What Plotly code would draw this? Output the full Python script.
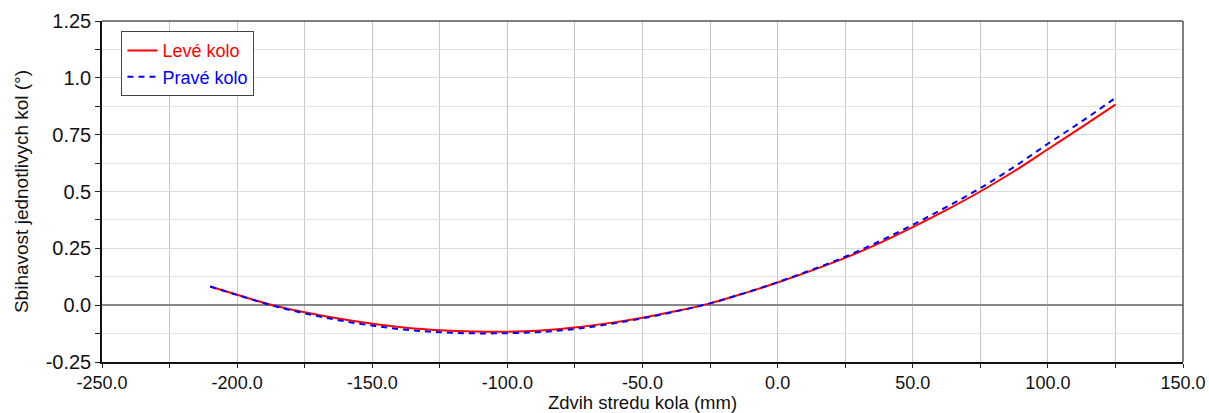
import plotly.graph_objects as go

# Zdvih stredu kola (mm)
zdvih = [-210, -200, -187.5, -175, -162.5, -150, -137.5, -125, -112.5, -100,
         -87.5, -75, -62.5, -50, -37.5, -25, -12.5, 0, 12.5, 25, 37.5, 50,
         62.5, 75, 87.5, 100, 112.5, 125]

leve_kolo = [0.082, 0.046, 0.002, -0.031, -0.059, -0.082, -0.099, -0.110, -0.116, -0.117,
             -0.111, -0.098, -0.079, -0.055, -0.026, 0.008, 0.052, 0.100, 0.152, 0.208,
             0.272, 0.343, 0.419, 0.500, 0.589, 0.686, 0.783, 0.882]

prave_kolo = [0.082, 0.045, 0.000, -0.036, -0.066, -0.090, -0.108, -0.119, -0.124, -0.123,
              -0.118, -0.105, -0.084, -0.058, -0.027, 0.008, 0.052, 0.101, 0.155, 0.213,
              0.280, 0.354, 0.432, 0.515, 0.608, 0.710, 0.808, 0.912]

x_tickvals = [-250, -200, -150, -100, -50, 0, 50, 100, 150]
x_ticktext = ["-250.0", "-200.0", "-150.0", "-100.0", "-50.0", "0.0", "50.0", "100.0", "150.0"]
y_tickvals = [-0.25, 0, 0.25, 0.5, 0.75, 1.0, 1.25]
y_ticktext = ["-0.25", "0.0", "0.25", "0.5", "0.75", "1.0", "1.25"]

FONT = "Liberation Sans, Arial, sans-serif"

fig = go.Figure()
fig.add_trace(go.Scatter(
    x=zdvih, y=leve_kolo, mode="lines", line_shape="spline",
    name="<span style='color:#ff0000'>Levé kolo</span>",
    line=dict(color="#ff0000", width=2),
))
fig.add_trace(go.Scatter(
    x=zdvih, y=prave_kolo, mode="lines", line_shape="spline",
    name="<span style='color:#0000ff'>Pravé kolo</span>",
    line=dict(color="#0000ff", width=2, dash="6px,5px"),
))

fig.update_layout(
    width=1209, height=413,
    margin=dict(l=102, r=26, t=21, b=51),
    paper_bgcolor="white", plot_bgcolor="white",
    font=dict(family=FONT, size=19, color="#111111"),
    showlegend=True,
    legend=dict(
        x=0.018, y=0.97, xanchor="left", yanchor="top",
        bgcolor="white", bordercolor="#444444", borderwidth=1,
        font=dict(family=FONT, size=18),
        tracegroupgap=0, itemwidth=30,
    ),
    xaxis=dict(
        range=[-250, 150], tickvals=x_tickvals, ticktext=x_ticktext,
        showgrid=True, gridcolor="#c8c8c8", gridwidth=1,
        minor=dict(dtick=25, tick0=0, showgrid=True, gridcolor="#c8c8c8",
                   ticks="outside", ticklen=4, tickcolor="#222222"),
        ticks="outside", ticklen=4, tickcolor="#222222",
        showline=True, linecolor="#111111", linewidth=1.5, mirror=False,
        zeroline=False, automargin=False,
        title=dict(text="Zdvih stredu kola (mm)", font=dict(size=18.5), standoff=5),
        tickfont=dict(size=18),
    ),
    yaxis=dict(
        range=[-0.25, 1.25], tickvals=y_tickvals, ticktext=y_ticktext,
        showgrid=True, gridcolor="#d9d9d9", gridwidth=1,
        minor=dict(dtick=0.125, tick0=0, showgrid=True, gridcolor="#e3e3e3",
                   ticks="outside", ticklen=5, tickcolor="#222222"),
        ticks="outside", ticklen=5, tickcolor="#222222",
        showline=True, linecolor="#111111", linewidth=1.5,
        zeroline=True, zerolinecolor="#888888", zerolinewidth=1.5,
        automargin=False,
        title=dict(text="Sbihavost jednotlivych kol (°)", font=dict(size=19), standoff=12),
        tickfont=dict(size=20),
    ),
)

# frame on top and right
fig.add_shape(type="line", xref="paper", yref="paper", x0=0, x1=1, y0=1, y1=1,
              line=dict(color="#555555", width=1.5))
fig.add_shape(type="line", xref="paper", yref="paper", x0=1, x1=1, y0=0, y1=1,
              line=dict(color="#555555", width=1.5))

fig.write_html("out.html", config={"displayModeBar": False},
               post_script="document.body.style.margin='0';")
